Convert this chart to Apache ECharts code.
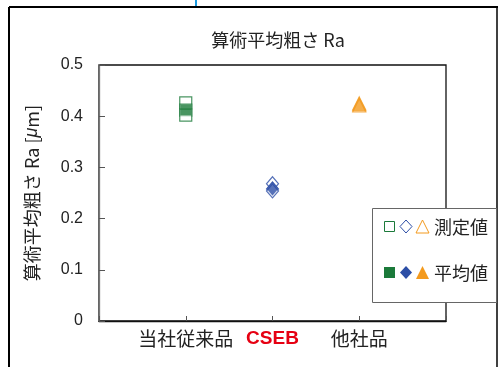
<!DOCTYPE html>
<html><head><meta charset="utf-8">
<script src="https://cdn.jsdelivr.net/npm/echarts@6/dist/echarts.min.js"></script>
<style>html,body{margin:0;padding:0;background:#fff}#c{width:498px;height:367px}</style>
</head><body><div id="c"></div>
<script>
const categories = ['当社従来品', 'CSEB', '他社品'];
const measuredConv = [0.426, 0.412, 0.402];
const measuredCSEB = [0.268, 0.258, 0.254];
const measuredOther = [0.425, 0.423, 0.421];
const meanValues = [0.412, 0.259, 0.423];
const yTicks = [0, 0.1, 0.2, 0.3, 0.4, 0.5];
const legendLabels = ['測定値', '平均値'];
const title = '算術平均粗さ Ra';

const GREEN = '#1b7a3a', BLUE = '#2c4ea6', ORANGE = '#f39a1e';
const CJK = '"Noto Sans CJK JP", "Liberation Sans", sans-serif';
const LAT = '"Liberation Sans", Arial, sans-serif';

function pts(idx, arr) { return arr.map(v => [idx + 1, v]); }

const chart = echarts.init(document.getElementById('c'));
chart.setOption({
  animation: false,
  title: { text: title, left: 273, top: 26, textAlign: 'center',
    textStyle: { fontFamily: CJK, fontSize: 18, fontWeight: 'normal', color: '#222' } },
  grid: { left: 99, right: 52, top: 65, bottom: 46, show: true, borderColor: '#111', borderWidth: 1.3, backgroundColor: '#fff' },
  xAxis: {
    type: 'value', min: 0, max: 4, interval: 1,
    axisLine: { show: true, lineStyle: { color: '#111', width: 1.3 } },
    axisTick: { show: true, inside: true, length: 5, lineStyle: { color: '#555' } },
    splitLine: { show: false },
    axisLabel: {
      margin: 8, fontFamily: CJK, fontSize: 19, color: '#222',
      formatter: v => { const i = Math.round(v) - 1; if (i < 0 || i >= categories.length) return ''; return i === 1 ? '{r|' + categories[i] + '}' : categories[i]; },
      rich: { r: { color: '#e60012', fontWeight: 'bold', fontFamily: LAT, fontSize: 19 } }
    }
  },
  yAxis: {
    type: 'value', min: yTicks[0], max: yTicks[yTicks.length - 1], interval: 0.1,
    name: '算術平均粗さ Ra [{i|μ}m]', nameLocation: 'middle', nameGap: 58, nameRotate: 90,
    nameTextStyle: { fontFamily: CJK, fontSize: 18, color: '#222', rich: { i: { fontStyle: 'italic', fontFamily: LAT, fontSize: 18, color: '#222' } } },
    axisLine: { show: true, lineStyle: { color: '#777', width: 1.3 } },
    axisTick: { show: true, inside: true, length: 6, lineStyle: { color: '#555' } },
    splitLine: { show: false },
    axisLabel: { margin: 16, fontFamily: LAT, fontSize: 16, color: '#222', formatter: v => String(Math.round(v * 10) / 10) }
  },
  series: [
    { type: 'scatter', data: pts(0, measuredConv), symbol: 'rect', symbolSize: 12,
      itemStyle: { color: '#fff', borderColor: GREEN, borderWidth: 1.2 }, z: 2 },
    { type: 'scatter', data: pts(1, measuredCSEB), symbol: 'diamond', symbolSize: [12, 14],
      itemStyle: { color: '#fff', borderColor: BLUE, borderWidth: 1.2 }, z: 2 },
    { type: 'scatter', data: pts(2, measuredOther), symbol: 'triangle', symbolSize: 13,
      itemStyle: { color: '#fff', borderColor: ORANGE, borderWidth: 1.2 }, z: 2 },
    { type: 'scatter', data: [[1, meanValues[0]]], symbol: 'rect', symbolSize: 11, itemStyle: { color: GREEN }, z: 3 },
    { type: 'scatter', data: [[2, meanValues[1]]], symbol: 'diamond', symbolSize: [12, 14], itemStyle: { color: BLUE }, z: 3 },
    { type: 'scatter', data: [[3, meanValues[2]]], symbol: 'triangle', symbolSize: 13, itemStyle: { color: ORANGE }, z: 3 }
  ],
  graphic: [
    { type: 'line', shape: { x1: 9, y1: 7, x2: 498, y2: 7 }, style: { stroke: '#000', lineWidth: 2 } },
    { type: 'line', shape: { x1: 9, y1: 7, x2: 9, y2: 367 }, style: { stroke: '#000', lineWidth: 2 } },
    { type: 'line', shape: { x1: 497, y1: 7, x2: 497, y2: 367 }, style: { stroke: '#000', lineWidth: 1.5 } },
    { type: 'line', shape: { x1: 196, y1: 0, x2: 196, y2: 6 }, style: { stroke: '#1a9ae0', lineWidth: 2 } },
    { type: 'rect', shape: { x: 372.5, y: 208.5, width: 124, height: 94 }, style: { fill: '#fff', stroke: '#666', lineWidth: 1 }, z: 10 },
    { type: 'rect', shape: { x: 384.5, y: 221.5, width: 10, height: 10 }, style: { fill: '#fff', stroke: GREEN, lineWidth: 1 }, z: 11 },
    { type: 'polygon', shape: { points: [[406, 220], [412, 226.5], [406, 233], [400, 226.5]] }, style: { fill: '#fff', stroke: BLUE, lineWidth: 1 }, z: 11 },
    { type: 'polygon', shape: { points: [[422.5, 220], [429, 233], [416, 233]] }, style: { fill: '#fff', stroke: ORANGE, lineWidth: 1 }, z: 11 },
    { type: 'text', x: 434, y: 227, style: { text: legendLabels[0], fontFamily: CJK, fontSize: 18, fill: '#222', verticalAlign: 'middle' }, z: 11 },
    { type: 'rect', shape: { x: 384, y: 267, width: 11, height: 11 }, style: { fill: GREEN }, z: 11 },
    { type: 'polygon', shape: { points: [[406, 266], [412, 272.5], [406, 279], [400, 272.5]] }, style: { fill: BLUE }, z: 11 },
    { type: 'polygon', shape: { points: [[422.5, 266], [429, 279], [416, 279]] }, style: { fill: ORANGE }, z: 11 },
    { type: 'text', x: 434, y: 273, style: { text: legendLabels[1], fontFamily: CJK, fontSize: 18, fill: '#222', verticalAlign: 'middle' }, z: 11 }
  ]
});
</script></body></html>
